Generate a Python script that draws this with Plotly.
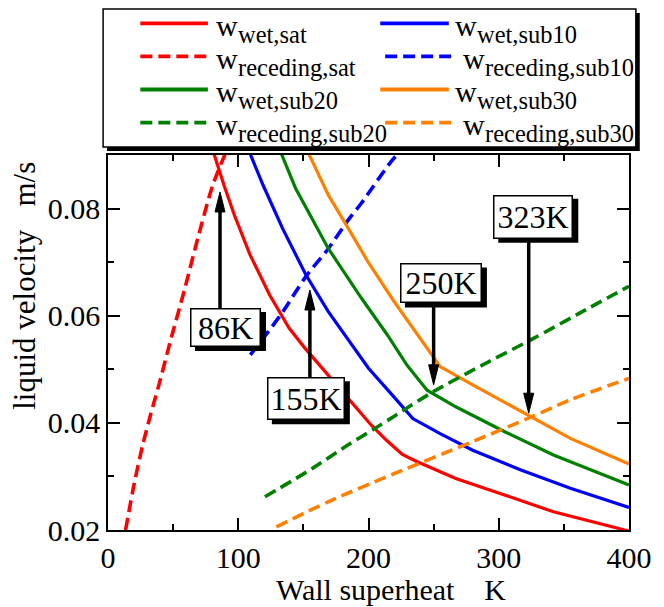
import plotly.graph_objects as go

# ---- data: wall superheat (K) vs liquid velocity (m/s) ----
wet_sat_x = [81, 89, 97, 109, 124, 139, 151, 169, 185, 202, 214, 226, 237, 267, 305, 342, 400]
wet_sat_v = [0.0905, 0.0844, 0.0788, 0.0714, 0.0639, 0.0577, 0.0540, 0.0489, 0.0443, 0.0396,
             0.0367, 0.0341, 0.0328, 0.0296, 0.0265, 0.0234, 0.0198]

wet_sub10_x = [109, 119, 134, 152, 169, 182, 200, 220, 234, 255, 280, 317, 355, 400]
wet_sub10_v = [0.0903, 0.0844, 0.0763, 0.0676, 0.0608, 0.0564, 0.0502, 0.0447, 0.0408,
               0.0380, 0.0349, 0.0312, 0.0278, 0.0242]

wet_sub20_x = [133, 144, 169, 194.5, 214.5, 229.5, 245, 267, 305, 342, 400]
wet_sub20_v = [0.0903, 0.0838, 0.0726, 0.0633, 0.0564, 0.0508, 0.0461, 0.0430, 0.0383,
               0.0340, 0.0284]

wet_sub30_x = [154, 169, 184.5, 199.5, 219.5, 240, 255, 280, 317, 355, 400]
wet_sub30_v = [0.0903, 0.0826, 0.0763, 0.0701, 0.0627, 0.0556, 0.0505, 0.0471, 0.0421,
               0.0371, 0.0323]

rec_sat_x = [13.5, 20, 26.5, 33, 39, 47.5, 59, 69, 80.5, 90.5]
rec_sat_v = [0.0200, 0.0285, 0.0357, 0.0418, 0.0470, 0.0549, 0.0651, 0.0745, 0.0844, 0.0905]

rec_sub10_x = [109.3, 119.3, 134.4, 151.9, 169.4, 184.5, 194.5, 219.5, 225]
rec_sub10_v = [0.0527, 0.0558, 0.0608, 0.0673, 0.0726, 0.0779, 0.0810, 0.0894, 0.0905]

rec_sub20_x = [120.5, 157, 184.4, 204.5, 219.5, 249.6, 292.2, 327, 360, 400]
rec_sub20_v = [0.0262, 0.0315, 0.0359, 0.0389, 0.0412, 0.0458, 0.0514, 0.0558, 0.0602, 0.0655]

rec_sub30_x = [129.3, 169.4, 219.5, 280, 325, 355, 400]
rec_sub30_v = [0.0206, 0.0253, 0.0305, 0.0365, 0.0411, 0.0443, 0.0483]

# crossing superheats marked with arrows: (label value K, arrow tip, arrow tail) in m/s
cross_K = [86, 155, 250, 323]
cross_tip_v = [0.0831, 0.0648, 0.0471, 0.0418]
cross_tail_v = [0.0614, 0.0485, 0.0624, 0.0745]

# ---- styling ----
FONT = "Liberation Serif, Times New Roman, serif"
RED, BLUE, GREEN, ORANGE = "#ff0000", "#0000ff", "#008000", "#ff8000"
DASH = "12px,6px"

W, H = 664, 607
PLOT_L, PLOT_R, PLOT_T, PLOT_B = 108, 640, 155, 530


def fx(px):
    return (px - PLOT_L) / (PLOT_R - PLOT_L)


def fy(py):
    return (PLOT_B - py) / (PLOT_B - PLOT_T)


# legend order: two columns, row by row
series = [
    ("wet,sat", wet_sat_x, wet_sat_v, RED, "solid"),
    ("wet,sub10", wet_sub10_x, wet_sub10_v, BLUE, "solid"),
    ("receding,sat", rec_sat_x, rec_sat_v, RED, DASH),
    ("receding,sub10", rec_sub10_x, rec_sub10_v, BLUE, DASH),
    ("wet,sub20", wet_sub20_x, wet_sub20_v, GREEN, "solid"),
    ("wet,sub30", wet_sub30_x, wet_sub30_v, ORANGE, "solid"),
    ("receding,sub20", rec_sub20_x, rec_sub20_v, GREEN, DASH),
    ("receding,sub30", rec_sub30_x, rec_sub30_v, ORANGE, DASH),
]

fig = go.Figure()
for sub, xs, vs, color, dash in series:
    is_dash = dash != "solid"
    fig.add_trace(go.Scatter(
        x=xs, y=vs, mode="lines", name="w_" + sub,
        line=dict(color=color, width=3.6 if is_dash else 3.2, dash=dash,
                  shape="spline" if is_dash else "linear", smoothing=0.8),
        showlegend=False, hoverinfo="skip",
    ))

shapes = []
annotations = []

# legend frame with drop shadow
LX0, LY0, LX1, LY1 = 103, 9, 647, 147
shapes.append(dict(type="rect", xref="paper", yref="paper",
                   x0=fx(LX0 + 4), x1=fx(LX1 + 4), y0=fy(LY1 + 4), y1=fy(LY0 + 4),
                   fillcolor="black", line=dict(width=0), layer="above"))
shapes.append(dict(type="rect", xref="paper", yref="paper",
                   x0=fx(LX0), x1=fx(LX1), y0=fy(LY1), y1=fy(LY0),
                   fillcolor="white", line=dict(color="black", width=1.5), layer="above"))

for i, (sub, xs, vs, color, dash) in enumerate(series):
    col, row = i % 2, i // 2
    is_dash = dash != "solid"
    if col == 0:
        lx0, lx1, tx = 141, 210, 216
    else:
        lx0, lx1, tx = (391, 460, 468) if is_dash else (386, 456, 460)
    ly = 23.3 + 33.1 * row
    shapes.append(dict(type="line", xref="paper", yref="paper",
                       x0=fx(lx0), x1=fx(lx1), y0=fy(ly), y1=fy(ly),
                       line=dict(color=color, width=3.8, dash=DASH if is_dash else "solid"),
                       layer="above"))
    base_main = 35.5 + 33 * row
    base_sub = 42.5 + 33 * row
    annotations.append(dict(text="w", xref="paper", yref="paper", showarrow=False,
                            x=fx(tx), y=fy(base_main - 10.2), xanchor="left", yanchor="middle",
                            font=dict(family=FONT, size=30, color="black")))
    annotations.append(dict(text=sub, xref="paper", yref="paper", showarrow=False,
                            x=fx(tx + 23), y=fy(base_sub - 8.2), xanchor="left", yanchor="middle",
                            font=dict(family=FONT, size=24.5, color="black")))

# labelled arrows at the crossing points
label_boxes = [  # centre (K, m/s), box size px
    (90.2, 0.05778, 68, 36),
    (151.9, 0.04448, 75, 40),
    (255.6, 0.06603, 79, 37),
    (326.5, 0.07845, 77, 41),
]
for k, tip, tail, (bx, by, bw, bh) in zip(cross_K, cross_tip_v, cross_tail_v, label_boxes):
    up = tip > tail
    shapes.append(dict(type="line", xref="x", yref="y", x0=k, x1=k, y0=tail,
                       y1=tip - 0.0025 if up else tip + 0.0025,
                       line=dict(color="black", width=3.5), layer="above"))
    head = "M0,0 L-5,-20 L5,-20 Z" if up else "M0,0 L-5,20 L5,20 Z"
    shapes.append(dict(type="path", xref="x", yref="y", xsizemode="pixel", ysizemode="pixel",
                       xanchor=k, yanchor=tip, path=head, fillcolor="black",
                       line=dict(color="black", width=1), layer="above"))
    # drop shadow behind the label box
    hw, hh = bw / 2 + 1.5, bh / 2 + 1.5
    shapes.append(dict(type="rect", xref="x", yref="y", xsizemode="pixel", ysizemode="pixel",
                       xanchor=bx, yanchor=by, x0=-hw + 5, x1=hw + 5, y0=-hh - 4, y1=hh - 4,
                       fillcolor="black", line=dict(width=0), layer="above"))
    annotations.append(dict(text=f"{k}K", x=bx, y=by, xref="x", yref="y", showarrow=False,
                            width=bw, height=bh, borderpad=0,
                            bgcolor="white", bordercolor="black", borderwidth=1.5,
                            font=dict(family=FONT, size=32, color="black")))

# axis titles
annotations.append(dict(text="Wall superheat\u00a0\u00a0\u00a0\u00a0K", xref="paper", yref="paper",
                        x=fx(397), y=fy(589), showarrow=False, xanchor="center", yanchor="middle",
                        font=dict(family=FONT, size=30, color="black")))
annotations.append(dict(text="liquid velocity\u00a0\u00a0\u00a0m/s", xref="paper", yref="paper",
                        x=fx(22), y=fy(286), showarrow=False, textangle=-90,
                        xanchor="center", yanchor="middle",
                        font=dict(family=FONT, size=31, color="black")))

axis_common = dict(
    showline=True, linecolor="black", linewidth=1.5, mirror="ticks",
    ticks="inside", ticklen=12, tickwidth=1.5, tickcolor="black",
    showgrid=False, zeroline=False,
    tickfont=dict(family=FONT, size=30, color="black"),
)
fig.update_xaxes(range=[0, 400], dtick=100, tick0=0,
                 minor=dict(dtick=50, ticks="inside", ticklen=6, tickwidth=1.5,
                            tickcolor="black", showgrid=False),
                 **axis_common)
fig.update_yaxes(range=[0.02, 0.09], dtick=0.02, tick0=0, tickformat=".2f",
                 minor=dict(dtick=0.01, ticks="inside", ticklen=6, tickwidth=1.5,
                            tickcolor="black", showgrid=False),
                 **axis_common)

fig.update_layout(
    width=W, height=H,
    margin=dict(l=PLOT_L, r=W - PLOT_R, t=PLOT_T, b=H - PLOT_B),
    plot_bgcolor="white", paper_bgcolor="white",
    showlegend=False,
    shapes=shapes, annotations=annotations,
)

fig.write_html("out.html")
